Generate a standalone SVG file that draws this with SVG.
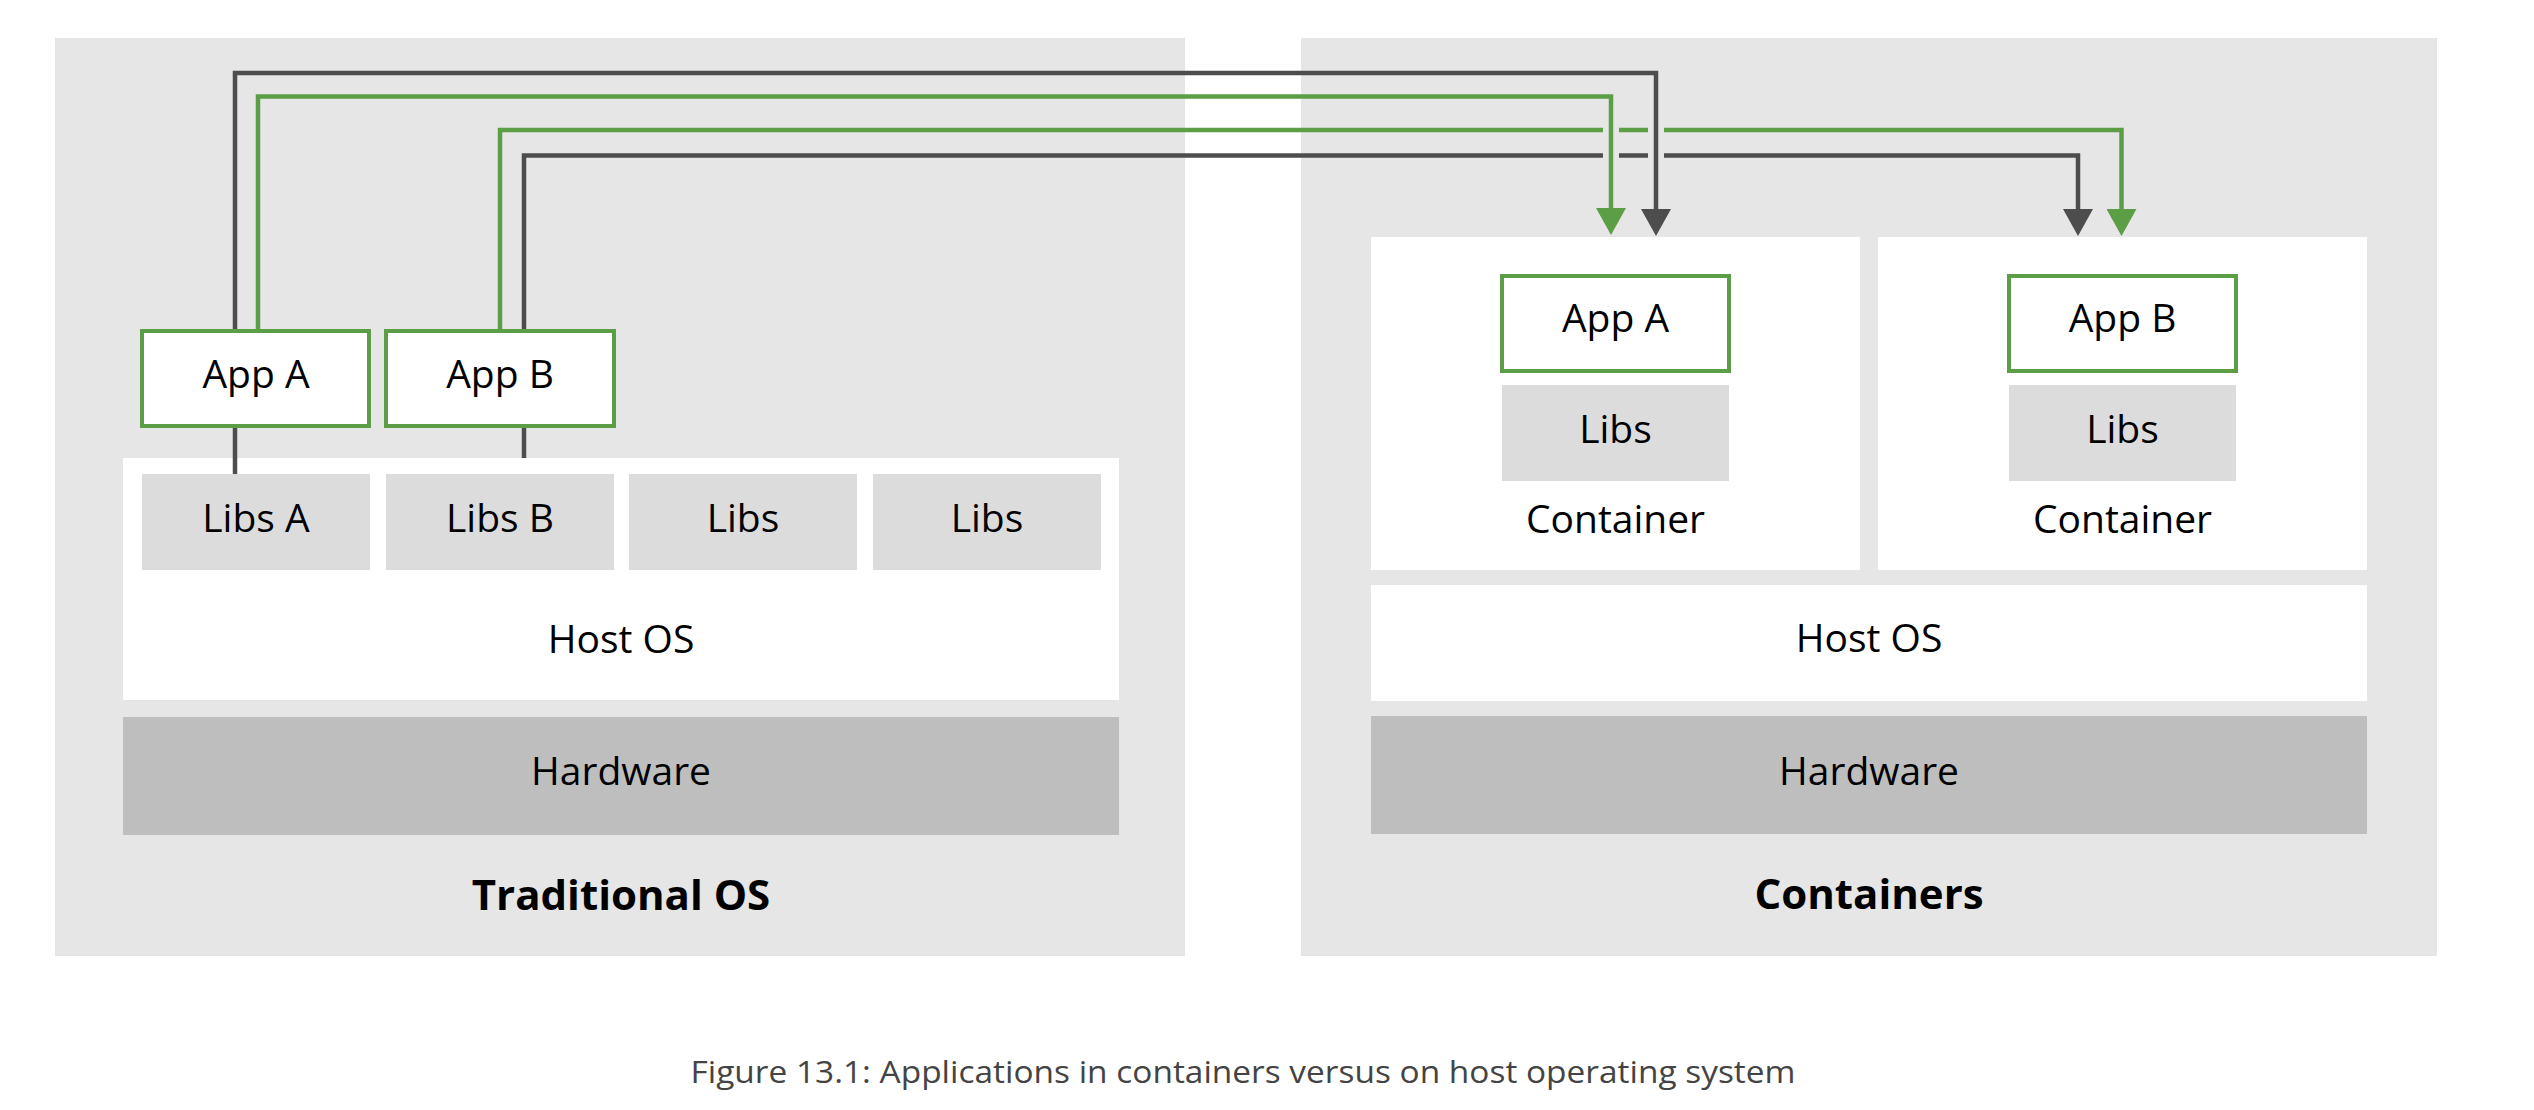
<svg xmlns="http://www.w3.org/2000/svg" width="2534" height="1110" viewBox="0 0 2534 1110">
<style>
.panel{fill:#e6e6e6}
.white{fill:#ffffff}
.libs{fill:#dcdcdc}
.hw{fill:#bebebe}
.app{fill:#ffffff;stroke:#5c9e45;stroke-width:4}
.lbl{font-family:"Open Sans","DejaVu Sans",sans-serif;font-size:39px;fill:#000;text-anchor:middle}
.ttl{font-family:"Open Sans","DejaVu Sans",sans-serif;font-size:42px;font-weight:bold;fill:#000;text-anchor:middle}
.cap{font-family:"Open Sans","DejaVu Sans",sans-serif;font-size:31px;fill:#444444;text-anchor:middle}
.dk{fill:none;stroke:#4d4d4d;stroke-width:4.5}
.gr{fill:none;stroke:#5c9e45;stroke-width:4.5}
</style>
<defs>
<marker id="ahDark" markerUnits="userSpaceOnUse" viewBox="0 0 27 30" refX="0" refY="15" markerWidth="27" markerHeight="30" orient="auto">
<path d="M0,0 L27,15 L0,30 Z" fill="#4d4d4d"/>
</marker>
<marker id="ahGreen" markerUnits="userSpaceOnUse" viewBox="0 0 27 30" refX="0" refY="15" markerWidth="27" markerHeight="30" orient="auto">
<path d="M0,0 L27,15 L0,30 Z" fill="#5c9e45"/>
</marker>
</defs>
<rect width="2534" height="1110" fill="#ffffff"/>

<g id="traditional-os">
<rect class="panel" x="55" y="38" width="1130" height="918"/>
<text class="ttl" x="621" y="910">Traditional OS</text>
</g>
<g id="containers-panel">
<rect class="panel" x="1301" y="38" width="1136" height="918"/>
<text class="ttl" x="1869" y="909">Containers</text>
</g>

<g id="host-os-left">
<rect class="white" x="123" y="458" width="996" height="242"/>
<text class="lbl" x="621" y="653">Host OS</text>
</g>
<g id="hardware-left">
<rect class="hw" x="123" y="717" width="996" height="118"/>
<text class="lbl" x="621" y="785">Hardware</text>
</g>
<g id="libs-a">
<rect class="libs" x="142" y="474" width="228" height="96"/>
<text class="lbl" x="256" y="532">Libs A</text>
</g>
<g id="libs-b">
<rect class="libs" x="386" y="474" width="228" height="96"/>
<text class="lbl" x="500" y="532">Libs B</text>
</g>
<g id="libs-3">
<rect class="libs" x="629" y="474" width="228" height="96"/>
<text class="lbl" x="743" y="532">Libs</text>
</g>
<g id="libs-4">
<rect class="libs" x="873" y="474" width="228" height="96"/>
<text class="lbl" x="987" y="532">Libs</text>
</g>

<g id="container-a">
<rect class="white" x="1371" y="237" width="489" height="333"/>
<text class="lbl" x="1615.5" y="533">Container</text>
</g>
<g id="container-b">
<rect class="white" x="1878" y="237" width="489" height="333"/>
<text class="lbl" x="2122.5" y="533">Container</text>
</g>
<g id="libs-ca">
<rect class="libs" x="1502" y="385" width="227" height="96"/>
<text class="lbl" x="1615.5" y="443">Libs</text>
</g>
<g id="libs-cb">
<rect class="libs" x="2009" y="385" width="227" height="96"/>
<text class="lbl" x="2122.5" y="443">Libs</text>
</g>
<g id="host-os-right">
<rect class="white" x="1371" y="585" width="996" height="116"/>
<text class="lbl" x="1869" y="652">Host OS</text>
</g>
<g id="hardware-right">
<rect class="hw" x="1371" y="716" width="996" height="118"/>
<text class="lbl" x="1869" y="785">Hardware</text>
</g>

<g id="connectors">
<path class="dk" d="M235,428 V474"/>
<path class="dk" d="M524,428 V458"/>
<path class="dk" d="M235,331 V73 H1656 V209" marker-end="url(#ahDark)"/>
<path class="gr" d="M258,331 V96.5 H1611 V208" marker-end="url(#ahGreen)"/>
<path class="gr" d="M500,331 V130 H1603"/>
<path class="gr" d="M1619,130 H1648"/>
<path class="gr" d="M1664,130 H2121.5 V209" marker-end="url(#ahGreen)"/>
<path class="dk" d="M524,331 V155.5 H1603"/>
<path class="dk" d="M1619,155.5 H1648"/>
<path class="dk" d="M1664,155.5 H2078 V209" marker-end="url(#ahDark)"/>
</g>

<g id="app-a-left">
<rect class="app" x="142" y="331" width="227" height="95"/>
<text class="lbl" x="256" y="388">App A</text>
</g>
<g id="app-b-left">
<rect class="app" x="386" y="331" width="228" height="95"/>
<text class="lbl" x="500" y="388">App B</text>
</g>
<g id="app-a-right">
<rect class="app" x="1502" y="276" width="227" height="95"/>
<text class="lbl" x="1615.5" y="332">App A</text>
</g>
<g id="app-b-right">
<rect class="app" x="2009" y="276" width="227" height="95"/>
<text class="lbl" x="2122.5" y="332">App B</text>
</g>

<text class="cap" x="1243" y="1083" textLength="1105" lengthAdjust="spacingAndGlyphs">Figure 13.1: Applications in containers versus on host operating system</text>
</svg>
